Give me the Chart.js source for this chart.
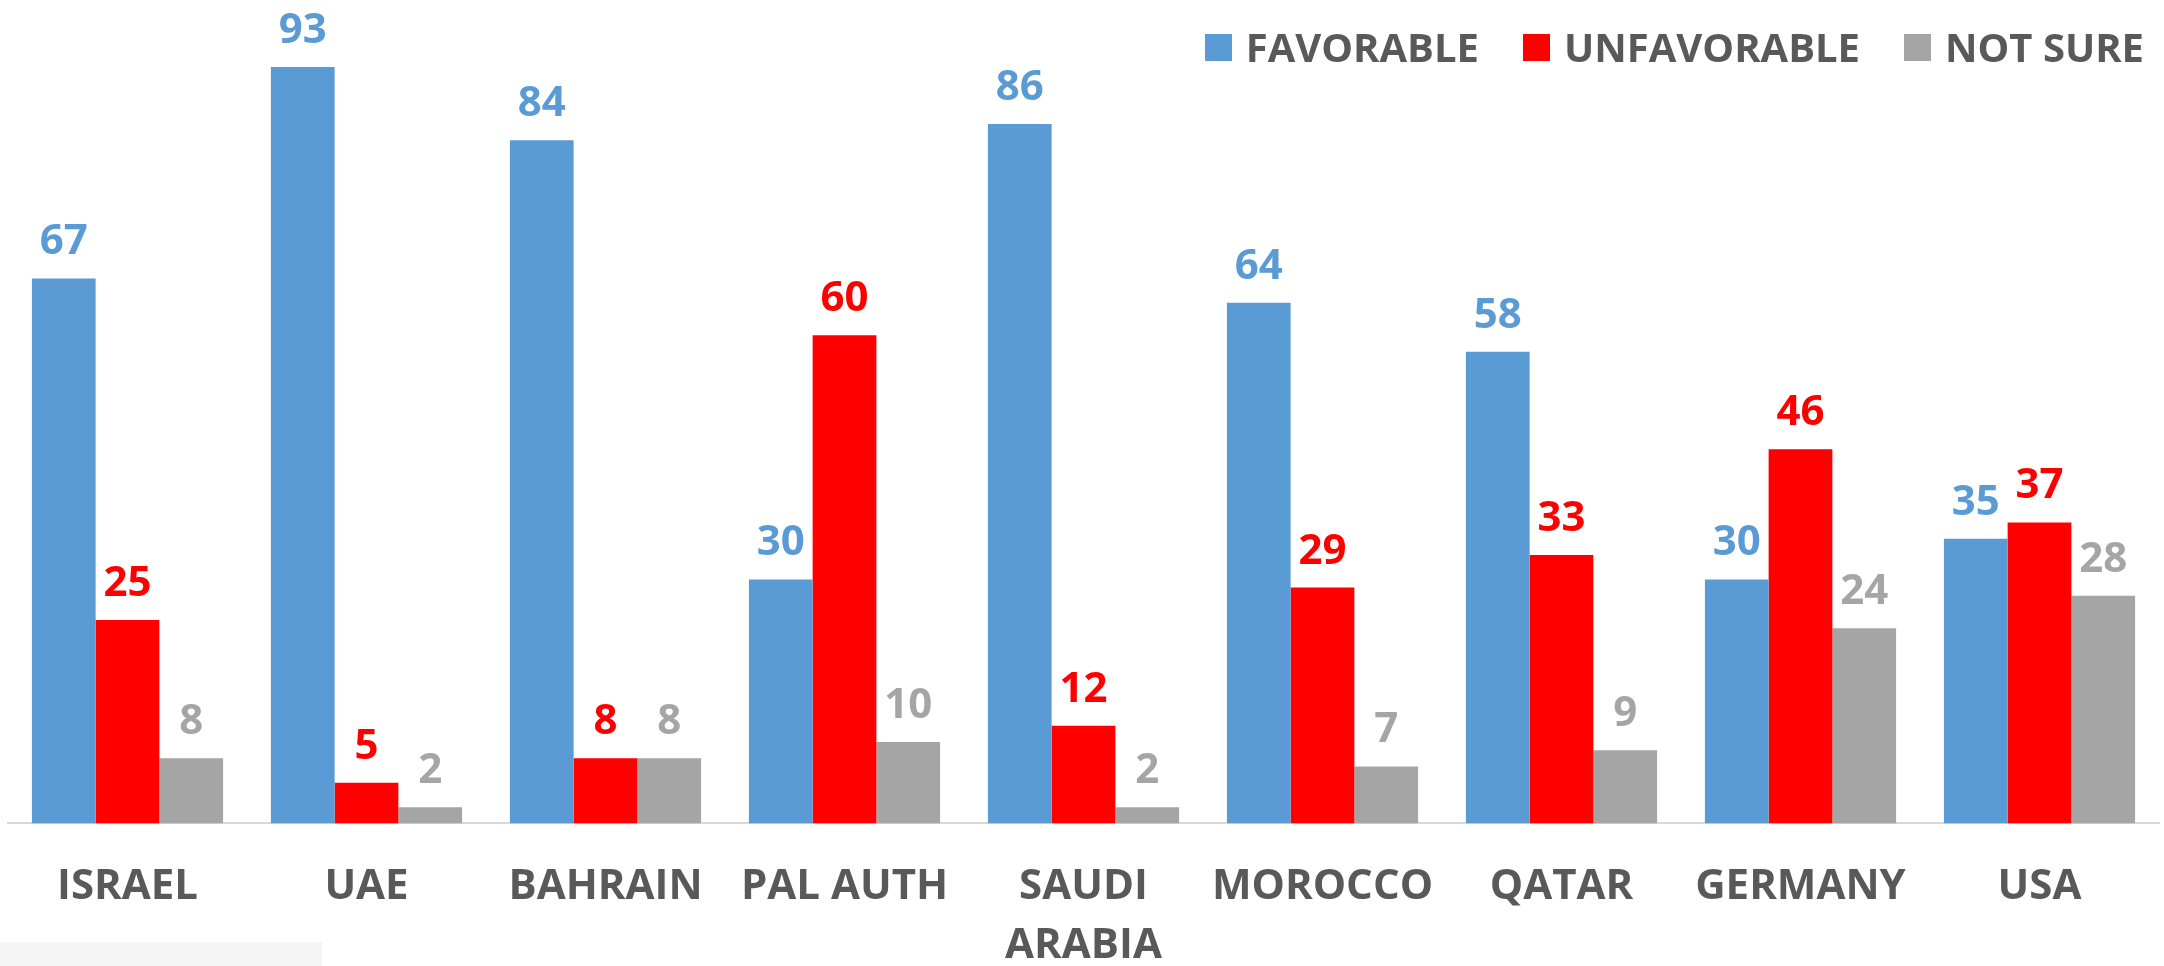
<!DOCTYPE html>
<html lang="en">
<head>
    <meta charset="UTF-8">
    <title>Favorable / Unfavorable</title>
    <script src="https://cdn.jsdelivr.net/npm/chart.js"></script>
    <style>
        body {
            margin: 0;
            background: #ffffff;
        }
        .chart-wrapper {
            position: relative;
            width: 2164px;
            height: 966px;
        }
        .corner-box {
            position: absolute;
            left: 0;
            top: 942px;
            width: 322px;
            height: 24px;
            background: #f5f5f5;
        }
        .legend {
            position: absolute;
            top: 19px;
            right: 20px;
            display: flex;
            align-items: center;
            gap: 44px;
            font-family: "Open Sans", sans-serif;
            font-weight: bold;
            font-size: 40px;
            color: #595959;
        }
        .legend-item {
            display: flex;
            align-items: center;
            gap: 14px;
            line-height: 56px;
        }
        .legend-box {
            width: 27px;
            height: 27px;
        }
    </style>
</head>
<body>
<div class="chart-wrapper">
    <canvas id="pollChart"></canvas>
    <div class="legend" id="legend"></div>
    <div class="corner-box"></div>
</div>

<script>
    const countries = ['ISRAEL', 'UAE', 'BAHRAIN', 'PAL AUTH', ['SAUDI', 'ARABIA'], 'MOROCCO', 'QATAR', 'GERMANY', 'USA'];
    const favorable = [67, 93, 84, 30, 86, 64, 58, 30, 35];
    const unfavorable = [25, 5, 8, 60, 12, 29, 33, 46, 37];
    const notSure = [8, 2, 8, 10, 2, 7, 9, 24, 28];

    const textColor = '#595959';
    const fontFamily = '"Open Sans", sans-serif';

    // value labels above each bar
    const valueLabels = {
        id: 'valueLabels',
        afterDatasetsDraw(chart) {
            const ctx = chart.ctx;
            ctx.save();
            ctx.font = 'bold 42px ' + fontFamily;
            ctx.textAlign = 'center';
            ctx.textBaseline = 'alphabetic';
            chart.data.datasets.forEach((ds, i) => {
                const meta = chart.getDatasetMeta(i);
                ctx.fillStyle = ds.backgroundColor;
                meta.data.forEach((bar, j) => {
                    ctx.fillText(ds.data[j], bar.x, bar.y - 24);
                });
            });
            ctx.restore();
        }
    };

    const ctx = document.getElementById('pollChart').getContext('2d');
    const chart = new Chart(ctx, {
        type: 'bar',
        data: {
            labels: countries,
            datasets: [
                { label: 'FAVORABLE', data: favorable, backgroundColor: '#5B9BD5' },
                { label: 'UNFAVORABLE', data: unfavorable, backgroundColor: '#FF0000' },
                { label: 'NOT SURE', data: notSure, backgroundColor: '#A5A5A5' }
            ]
        },
        options: {
            responsive: true,
            maintainAspectRatio: false,
            animation: false,
            layout: {
                padding: { top: 10, left: 8, right: 5, bottom: -43 }
            },
            datasets: {
                bar: { categoryPercentage: 0.8, barPercentage: 1.0 }
            },
            plugins: {
                legend: { display: false },
                tooltip: { enabled: false }
            },
            scales: {
                x: {
                    grid: { display: false, drawTicks: false },
                    border: { color: '#D9D9D9', width: 2 },
                    ticks: {
                        color: textColor,
                        font: { family: fontFamily, size: 42, weight: 'bold', lineHeight: 1.4 },
                        padding: 34,
                        maxRotation: 0,
                        autoSkip: false
                    }
                },
                y: {
                    display: false,
                    min: 0,
                    max: 100
                }
            }
        },
        plugins: [valueLabels]
    });

    // legend built from the chart's datasets
    const legendEl = document.getElementById('legend');
    chart.data.datasets.forEach(ds => {
        const item = document.createElement('div');
        item.className = 'legend-item';
        const box = document.createElement('div');
        box.className = 'legend-box';
        box.style.background = ds.backgroundColor;
        const label = document.createElement('span');
        label.textContent = ds.label;
        item.appendChild(box);
        item.appendChild(label);
        legendEl.appendChild(item);
    });
</script>
</body>
</html>
